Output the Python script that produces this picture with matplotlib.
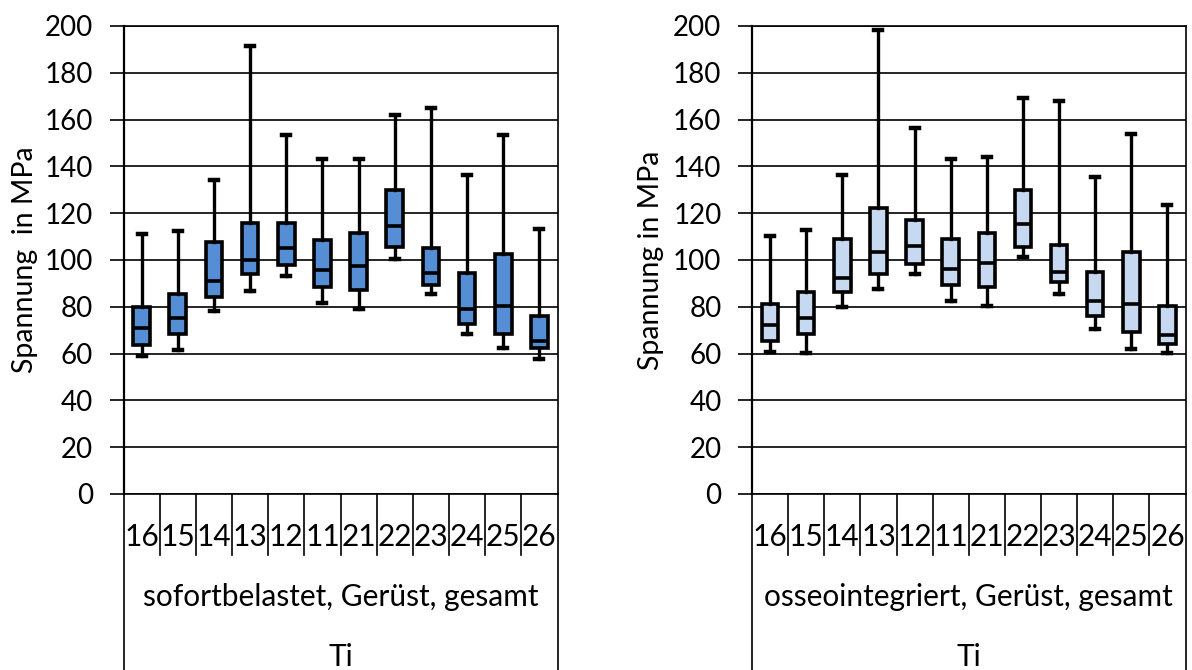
import matplotlib.pyplot as plt
from matplotlib.transforms import blended_transform_factory

plt.rcParams['font.family'] = ['Lato', 'DejaVu Sans']

teeth = ['16', '15', '14', '13', '12', '11', '21', '22', '23', '24', '25', '26']

# sofortbelastet: whisker low, Q1, median, Q3, whisker high (MPa)
sof_low = [59.0, 61.4, 78.1, 86.8, 93.2, 81.8, 79.2, 100.6, 85.5, 68.4, 62.3, 57.7]
sof_q1 = [63.8, 68.2, 84.0, 94.0, 97.7, 88.6, 87.2, 105.4, 89.3, 72.6, 68.2, 62.3]
sof_med = [70.8, 75.3, 91.2, 100.1, 105.1, 95.7, 97.6, 114.5, 94.3, 79.1, 80.3, 65.2]
sof_q3 = [79.8, 85.6, 107.5, 116.0, 116.0, 108.5, 111.4, 129.8, 105.0, 94.3, 102.6, 75.9]
sof_high = [111.0, 112.2, 134.2, 191.3, 153.3, 143.2, 143.2, 162.1, 164.8, 136.2, 153.3, 113.2]

# osseointegriert
oss_low = [60.8, 60.1, 79.8, 87.5, 93.9, 82.5, 80.5, 101.4, 85.6, 70.4, 62.1, 60.3]
oss_q1 = [65.2, 68.2, 86.2, 93.9, 98.3, 89.3, 88.6, 105.7, 90.5, 75.9, 69.1, 64.2]
oss_med = [72.1, 75.3, 92.5, 103.3, 106.0, 96.2, 98.8, 115.2, 94.9, 82.3, 81.1, 67.8]
oss_q3 = [81.1, 86.2, 108.8, 122.1, 117.2, 108.8, 111.4, 129.8, 106.4, 95.0, 103.3, 80.3]
oss_high = [110.3, 112.8, 136.2, 198.3, 156.5, 143.2, 143.9, 169.1, 167.8, 135.5, 153.8, 123.4]

W, H = 1192, 670
fig = plt.figure(figsize=(W / 100, H / 100), dpi=100)


def panel(x0, x1, low, q1, med, q3, high, color, group, ylabel, ylabel_x):
    ax = fig.add_axes([x0 / W, (H - 494) / H, (x1 - x0) / W, 468 / H])
    stats = [dict(whislo=a, q1=b, med=c, q3=d, whishi=e, fliers=[])
             for a, b, c, d, e in zip(low, q1, med, q3, high)]
    pos = list(range(1, len(teeth) + 1))
    ax.bxp(stats, positions=pos, widths=0.46, patch_artist=True, showfliers=False,
           boxprops=dict(facecolor=color, edgecolor='black', linewidth=2.6),
           medianprops=dict(color='black', linewidth=2.6),
           whiskerprops=dict(color='black', linewidth=2.4),
           capprops=dict(color='black', linewidth=3.2), capwidths=0.22,
           zorder=3)
    ax.set_xlim(0.5, len(teeth) + 0.5)
    ax.set_ylim(0, 200)
    ax.set_yticks(range(0, 201, 20))
    ax.grid(axis='y', color='black', linewidth=1.2, zorder=0)
    ax.tick_params(axis='y', length=10, width=1.2, labelsize=20, pad=12)
    ax.tick_params(axis='x', length=0, labelbottom=False)
    for s in ax.spines.values():
        s.set_linewidth(1.2)
    ax.spines['left'].set_linewidth(1.6)
    ax.set_xticks([])

    # category table below the axis
    tr = blended_transform_factory(ax.transData, ax.transAxes)
    row1 = -61 / 468
    bottom = -176 / 468
    for i in range(len(teeth) + 1):
        xb = i + 0.5
        yend = bottom if i in (0, len(teeth)) else row1
        ax.plot([xb, xb], [0, yend], color='black', linewidth=1.2,
                transform=tr, clip_on=False)
    for p, t in zip(pos, teeth):
        ax.text(p, -43 / 468, t, transform=tr, ha='center', va='center', fontsize=21.5)
    mid = (len(teeth) + 1) / 2
    ax.text(mid, -103 / 468, group, transform=tr, ha='center', va='center', fontsize=21.5)
    ax.text(mid, -163 / 468, 'Ti', transform=tr, ha='center', va='center', fontsize=21.5)

    fig.text(ylabel_x / W, (H - 260) / H, ylabel, rotation=90,
             ha='center', va='center', fontsize=20.5)
    return ax


panel(123.5, 557.5, sof_low, sof_q1, sof_med, sof_q3, sof_high, '#558ED5',
      'sofortbelastet, Gerüst, gesamt', 'Spannung  in MPa', 25)
panel(752, 1185.5, oss_low, oss_q1, oss_med, oss_q3, oss_high, '#C6D9F1',
      'osseointegriert, Gerüst, gesamt', 'Spannung in MPa', 651)

fig.savefig('out.png', dpi=100)
